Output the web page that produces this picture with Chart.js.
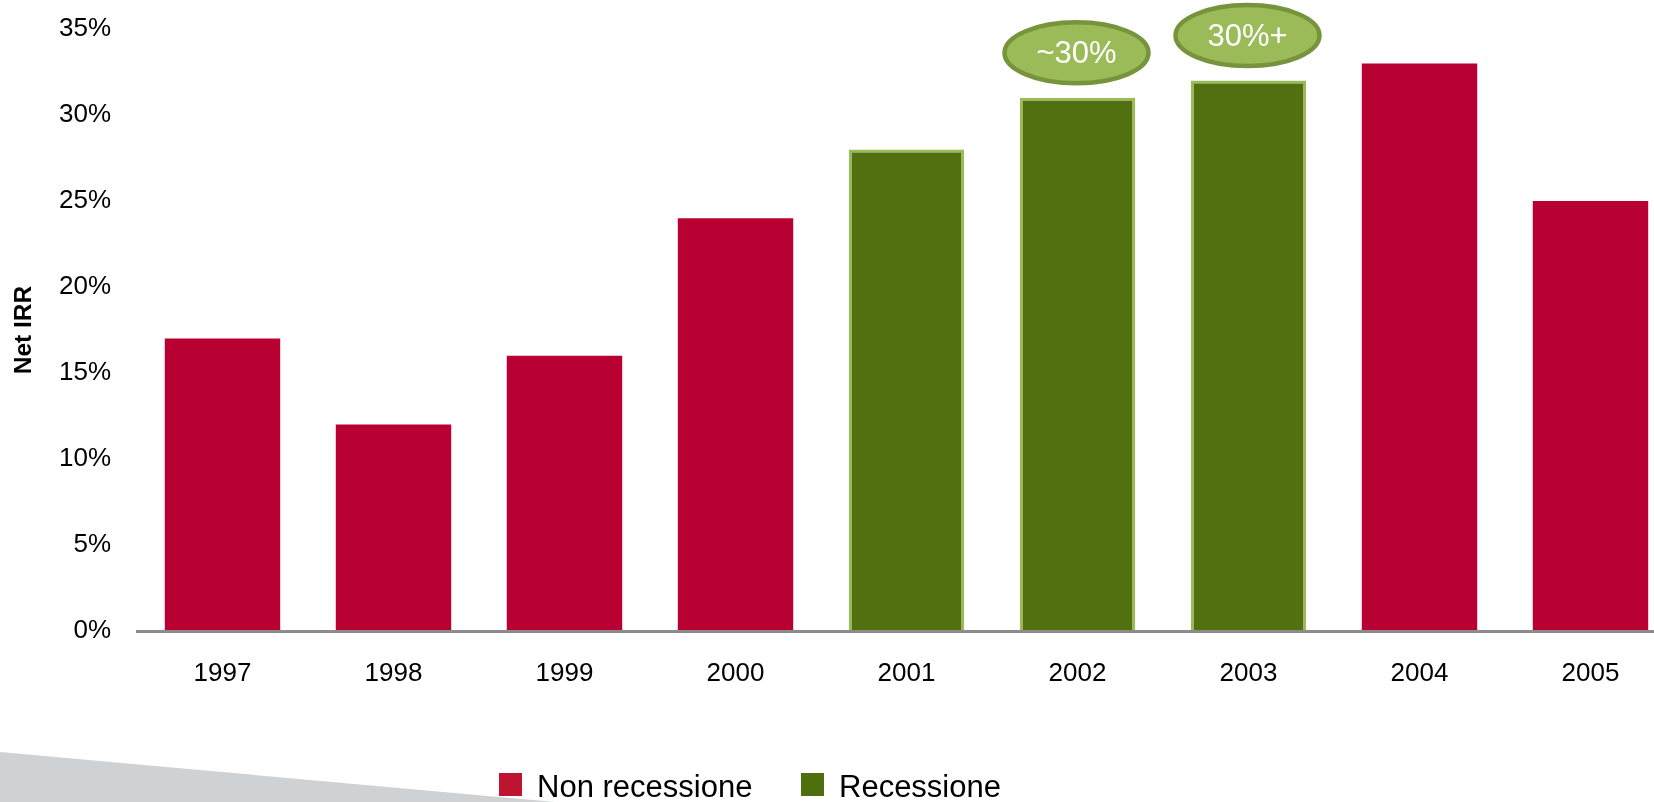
<!DOCTYPE html>
<html>
<head>
<meta charset="utf-8">
<script src="https://cdn.jsdelivr.net/npm/chart.js@4.4.1/dist/chart.umd.min.js"></script>
<style>
  html, body { margin: 0; padding: 0; background: #fff; overflow: hidden; }
  #wrap { position: relative; width: 1654px; height: 802px; overflow: hidden; }
  #wedge {
    position: absolute; left: 0; top: 0; width: 1654px; height: 802px;
    background: #cfd2d4;
    clip-path: polygon(0 752px, 555px 802px, 0 802px);
  }
  #box { position: absolute; left: 0; top: 0; width: 1690px; height: 802px; }
  .legend { position: absolute; font-family: "Liberation Sans", Arial, sans-serif; font-size: 31px; color: #000; line-height: 1; }
  .sw { position: absolute; width: 23px; height: 23px; }
</style>
</head>
<body>
<div id="wrap">
  <div id="wedge"></div>
  <div id="box"><canvas id="irrChart"></canvas></div>
  <div class="sw" style="left:499px; top:773px; background:#be1432;"></div>
  <div class="legend" style="left:537px; top:771px;">Non recessione</div>
  <div class="sw" style="left:801px; top:773px; background:#4f6f0e;"></div>
  <div class="legend" style="left:839px; top:771px;">Recessione</div>
</div>
<script>
// Net IRR by vintage year
const years = ['1997', '1998', '1999', '2000', '2001', '2002', '2003', '2004', '2005'];
const nonRecession = [17, 12, 16, 24, null, null, null, 33, 25];
const recession = [null, null, null, null, 28, 31, 32, null, null];
const yTicks = [0, 5, 10, 15, 20, 25, 30, 35];

// bubbles above the recession bars
const calloutYears = ['2002', '2003'];
const calloutTexts = ['~30%', '30%+'];

const FONT = '"Liberation Sans", Arial, sans-serif';

// 🔹 draws the green ellipses over the 2002/2003 bars
const calloutPlugin = {
    id: 'callouts',
    afterDatasetsDraw(chart) {
        let ctx = chart.ctx;
        let meta = chart.getDatasetMeta(1);
        calloutYears.forEach((yr, i) => {
            let idx = years.indexOf(yr);
            let bar = meta.data[idx];
            if (!bar) return;
            let cx = bar.x - 1;
            let cy = bar.y - 45;
            ctx.save();
            ctx.beginPath();
            ctx.ellipse(cx, cy, 72, 30.5, 0, 0, Math.PI * 2);
            ctx.fillStyle = '#9bbb59';
            ctx.fill();
            ctx.lineWidth = 4.5;
            ctx.strokeStyle = '#77933c';
            ctx.stroke();
            ctx.fillStyle = '#ffffff';
            ctx.font = '31px ' + FONT;
            ctx.textAlign = 'center';
            ctx.textBaseline = 'middle';
            ctx.fillText(calloutTexts[i], cx, cy + 2);
            ctx.restore();
        });
    }
};

let ctx = document.getElementById('irrChart').getContext('2d');

let irrChart = new Chart(ctx, {
    type: 'bar',
    data: {
        labels: years,
        datasets: [{
            label: 'Non recessione',
            data: nonRecession,
            backgroundColor: '#b80032',
            borderWidth: 0
        }, {
            label: 'Recessione',
            data: recession,
            backgroundColor: '#52700f',
            borderColor: '#9bbb59',
            borderWidth: 3,
            borderSkipped: 'bottom'
        }]
    },
    options: {
        responsive: true,
        maintainAspectRatio: false,
        animation: false,
        devicePixelRatio: 1,
        layout: { padding: { top: 29, right: 14, left: 0, bottom: 0 } },
        datasets: {
            bar: { grouped: false, categoryPercentage: 1, barPercentage: 0.675 }
        },
        plugins: {
            legend: { display: false },
            tooltip: { enabled: false }
        },
        scales: {
            x: {
                grid: { display: false, drawTicks: false },
                border: { display: true, color: '#8c8c8c', width: 3, z: 1 },
                ticks: {
                    color: '#000',
                    font: { family: FONT, size: 26 },
                    padding: 27,
                    maxRotation: 0
                },
                afterFit: s => {
                    s.height = 171;
                    s.paddingLeft = 0;
                    s.paddingRight = 0;
                }
            },
            y: {
                min: 0,
                max: 35,
                grid: { display: false, drawTicks: false },
                border: { display: false },
                afterBuildTicks: s => { s.ticks = yTicks.map(v => ({ value: v })); },
                ticks: {
                    color: '#000',
                    font: { family: FONT, size: 26 },
                    padding: 26,
                    callback: v => v + '%'
                },
                title: {
                    display: true,
                    text: 'Net IRR',
                    color: '#000',
                    font: { family: FONT, size: 24.5, weight: 'bold' },
                    padding: { top: 10, bottom: 0 }
                },
                afterFit: s => {
                    s.width = 137;
                    // keep the tick padding from pushing the plot area down
                    s.paddingTop = 0;
                    s.paddingBottom = 0;
                }
            }
        }
    },
    plugins: [calloutPlugin]
});
</script>
</body>
</html>
